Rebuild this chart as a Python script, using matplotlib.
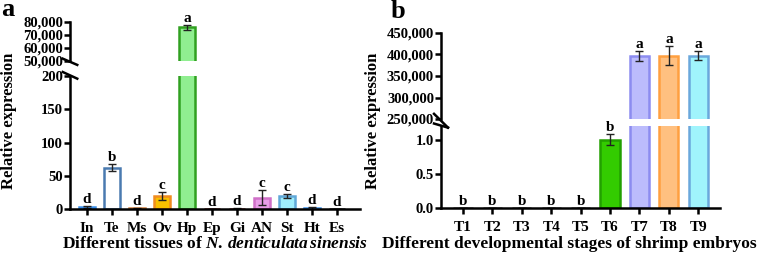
import numpy as np
import matplotlib.pyplot as plt

plt.rcParams['font.family'] = 'Liberation Serif'
plt.rcParams['font.weight'] = 'bold'
plt.rcParams['mathtext.fontset'] = 'custom'
plt.rcParams['mathtext.rm'] = 'Liberation Serif:bold'
plt.rcParams['mathtext.it'] = 'Liberation Serif:italic:bold'

# panel a: tissues
tissues = ["In", "Te", "Ms", "Ov", "Hp", "Ep", "Gi", "AN", "St", "Ht", "Es"]
tissue_vals = [3, 62, 1, 19, 76000, 0.3, 0.5, 17, 19, 2, 0.3]
tissue_err = [2, 5, 0.5, 6, 2000, 0.2, 0.3, 11, 3, 1.5, 0.2]
tissue_letters = ["d", "b", "d", "c", "a", "d", "d", "c", "c", "d", "d"]
tissue_fill = ["#1f4e9a", "#ffffff", "#c87030", "#f8c000", "#90ee90", "#8b3030",
               "#8b3030", "#e89ee8", "#a0eefc", "#1f4e9a", "#444444"]
tissue_edge = ["#3a8ee8", "#4a7ab0", "#d08040", "#f08c20", "#30a020", "#a04040",
               "#a04040", "#d070c8", "#60a8d8", "#3a8ee8", "#444444"]

# panel b: embryo stages
stages = ["T1", "T2", "T3", "T4", "T5", "T6", "T7", "T8", "T9"]
stage_vals = [0.001, 0.001, 0.001, 0.001, 0.001, 1.0, 397000, 397000, 397000]
stage_err = [0, 0, 0, 0, 0, 0.08, 12000, 22000, 10000]
stage_letters = ["b", "b", "b", "b", "b", "b", "a", "a", "a"]
stage_fill = ["#888888"] * 5 + ["#33cc00", "#bcbcfc", "#ffc080", "#a0f4fc"]
stage_edge = ["#888888"] * 5 + ["#22a000", "#8c8cf0", "#ffa040", "#6aa8dc"]

W, H = 758, 259
fig = plt.figure(figsize=(W / 100, H / 100), dpi=100)


def px_axes(x0, x1, ytop, ybot):
    return fig.add_axes([x0 / W, (H - ybot) / H, (x1 - x0) / W, (ybot - ytop) / H])


def style(ax):
    for s in ["top", "right"]:
        ax.spines[s].set_visible(False)
    ax.spines["left"].set_linewidth(1.8)
    ax.spines["bottom"].set_linewidth(1.8)
    ax.tick_params(axis="y", width=1.8, length=4, labelsize=10.5, pad=1)
    ax.tick_params(axis="x", width=1.8, length=4, labelsize=11, pad=5.5)
    ax.set_facecolor("none")


def break_marks(ax_top, ax_bot):
    kw = dict(color="black", lw=1.8, clip_on=False)
    ax_top.plot([-0.025, 0.025], [0.06, -0.1], transform=ax_top.transAxes, **kw)
    ax_bot.plot([-0.025, 0.025], [1.03, 0.98], transform=ax_bot.transAxes, **kw)


def draw_panel(names, vals, errs, letters, fills, edges, x0, x1, xlim,
               top_box, bot_box, top_lim, bot_lim, top_ticks, bot_ticks,
               top_labels, bot_labels, xlabel, xlabel_x, xlabel_top):
    ax_t = px_axes(x0, x1, *top_box)
    ax_b = px_axes(x0, x1, *bot_box)
    x = np.arange(len(names))
    for ax, lim in [(ax_t, top_lim), (ax_b, bot_lim)]:
        style(ax)
        ax.bar(x, vals, width=0.65, color=fills, edgecolor=edges, linewidth=1.8)
        ax.errorbar(x, vals, yerr=errs, fmt="none", ecolor="#222222",
                    elinewidth=1.0, capsize=3, capthick=1.0)
        ax.set_ylim(*lim)
        ax.set_xlim(*xlim)
        for xi, v, e, l in zip(x, vals, errs, letters):
            if lim[0] <= v + e <= lim[1]:
                ax.annotate(l, (xi, v + e), xytext=(0, 0), textcoords="offset points",
                            ha="center", va="bottom", fontsize=11, fontweight="bold",
                            annotation_clip=False)
    ax_t.spines["bottom"].set_visible(False)
    ax_t.tick_params(axis="x", bottom=False, labelbottom=False)
    ax_t.set_yticks(top_ticks)
    ax_t.set_yticklabels(top_labels)
    ax_b.set_yticks(bot_ticks)
    ax_b.set_yticklabels(bot_labels)
    ax_b.set_xticks(x)
    ax_b.set_xticklabels(names)
    ax_b.set_xlabel(xlabel, fontsize=12.5, fontweight="bold")
    y0, y1 = bot_box
    ax_b.xaxis.set_label_coords((xlabel_x - x0) / (x1 - x0), -(xlabel_top - y1) / (y1 - y0))
    break_marks(ax_t, ax_b)
    return ax_t, ax_b


ta, ba = draw_panel(tissues, tissue_vals, tissue_err, tissue_letters, tissue_fill, tissue_edge,
                    70, 360, (-0.68, 10.92), (22, 61), (76, 209),
                    (50000, 80000), (0, 200),
                    [50000, 60000, 70000, 80000], [0, 50, 100, 150, 200],
                    ["50,000", "60,000", "70,000", "80,000"], ["0", "50", "100", "150", "200"],
                    r"Different tissues of $\mathit{N.\,denticulata\,sinensis}$", 215, 236)

tb, bb = draw_panel(stages, stage_vals, stage_err, stage_letters, stage_fill, stage_edge,
                    441, 720, (-0.75, 8.74), (33, 119), (126, 208),
                    (250000, 450000), (0, 1.2),
                    [250000, 300000, 350000, 400000, 450000], [0, 0.5, 1.0],
                    ["250,000", "300,000", "350,000", "400,000", "450,000"], ["0.0", "0.5", "1.0"],
                    "Different developmental stages of shrimp embryos", 569, 236)

fig.text(9 / W, 1 - 121 / H, "Relative expression", rotation=90, ha="center", va="center",
         fontsize=12, fontweight="bold")
fig.text(373 / W, 1 - 121 / H, "Relative expression", rotation=90, ha="center", va="center",
         fontsize=12, fontweight="bold")
fig.text(1 / W, 1 - 10 / H, "a", fontsize=19, fontweight="bold", ha="left", va="center")
fig.text(391 / W, 1 - 12 / H, "b", fontsize=19, fontweight="bold", ha="left", va="center")

plt.savefig("out.png", dpi=100)
